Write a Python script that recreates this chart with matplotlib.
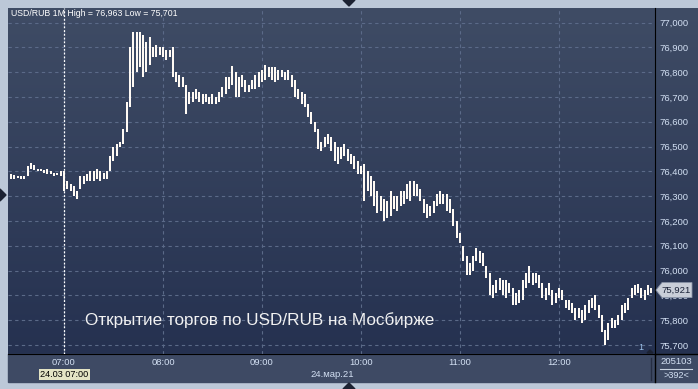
import numpy as np
import matplotlib
matplotlib.use("Agg")
import matplotlib.pyplot as plt
from matplotlib.patches import Polygon, Rectangle
from matplotlib.lines import Line2D

plt.rcParams["font.family"] = ["Liberation Sans", "DejaVu Sans"]

W, H = 698, 389

# 1M bars sampled every 2 minutes, minutes relative to 07:00
minutes = np.arange(-32, 357, 2)

lows = [
    76.37, 76.37, 76.375, 76.37, 76.37, 76.38, 76.41, 76.405, 76.40, 76.40,
    76.395, 76.39, 76.39, 76.38, 76.385, 76.38, 76.32, 76.33, 76.32, 76.30,
    76.29, 76.33, 76.35, 76.36, 76.36, 76.36, 76.37, 76.36, 76.37, 76.37,
    76.40, 76.44, 76.46, 76.50, 76.51, 76.56, 76.66, 76.74, 76.80, 76.82,
    76.78, 76.80, 76.83, 76.86, 76.86, 76.87, 76.86, 76.85, 76.86, 76.78,
    76.76, 76.74, 76.74, 76.63, 76.67, 76.68, 76.69, 76.68, 76.67, 76.68,
    76.67, 76.67, 76.67, 76.68, 76.70, 76.71, 76.73, 76.75, 76.70, 76.70,
    76.74, 76.72, 76.72, 76.73, 76.73, 76.74, 76.76, 76.77, 76.78, 76.77,
    76.76, 76.77, 76.78, 76.77, 76.77, 76.74, 76.70, 76.69, 76.67, 76.66,
    76.62, 76.59, 76.56, 76.49, 76.48, 76.50, 76.51, 76.48, 76.44, 76.43,
    76.45, 76.46, 76.44, 76.43, 76.41, 76.39, 76.39, 76.28, 76.32, 76.30,
    76.26, 76.23, 76.24, 76.20, 76.21, 76.22, 76.25, 76.24, 76.26, 76.27,
    76.29, 76.28, 76.30, 76.30, 76.28, 76.23, 76.21, 76.22, 76.23, 76.26,
    76.27, 76.27, 76.24, 76.23, 76.18, 76.13, 76.11, 76.04, 75.98, 75.98,
    76.00, 76.04, 76.03, 76.02, 75.97, 75.90, 75.89, 75.91, 75.92, 75.90,
    75.89, 75.91, 75.86, 75.86, 75.87, 75.88, 75.93, 75.95, 75.94, 75.95,
    75.93, 75.89, 75.88, 75.90, 75.86, 75.87, 75.89, 75.88, 75.85, 75.84,
    75.83, 75.80, 75.81, 75.79, 75.80, 75.83, 75.85, 75.84, 75.81, 75.75,
    75.701, 75.72, 75.77, 75.77, 75.78, 75.80, 75.83, 75.84, 75.89, 75.90,
    75.91, 75.89, 75.88, 75.90, 75.91,
]
highs = [
    76.39, 76.385, 76.38, 76.38, 76.38, 76.42, 76.435, 76.425, 76.41, 76.41,
    76.405, 76.41, 76.40, 76.395, 76.395, 76.40, 76.40, 76.36, 76.35, 76.34,
    76.32, 76.38, 76.38, 76.39, 76.40, 76.40, 76.41, 76.40, 76.395, 76.40,
    76.46, 76.50, 76.51, 76.52, 76.57, 76.68, 76.90, 76.96, 76.96, 76.963,
    76.95, 76.92, 76.94, 76.90, 76.91, 76.90, 76.90, 76.89, 76.89, 76.90,
    76.80, 76.79, 76.78, 76.75, 76.72, 76.72, 76.73, 76.72, 76.71, 76.71,
    76.70, 76.71, 76.70, 76.72, 76.74, 76.78, 76.78, 76.825, 76.80, 76.78,
    76.79, 76.77, 76.75, 76.77, 76.79, 76.80, 76.81, 76.83, 76.82, 76.82,
    76.82, 76.81, 76.81, 76.80, 76.81, 76.79, 76.77, 76.73, 76.72, 76.71,
    76.67, 76.64, 76.60, 76.57, 76.52, 76.54, 76.55, 76.54, 76.52, 76.50,
    76.50, 76.51, 76.49, 76.47, 76.46, 76.44, 76.42, 76.43, 76.40, 76.38,
    76.36, 76.32, 76.30, 76.29, 76.28, 76.32, 76.30, 76.30, 76.32, 76.32,
    76.35, 76.36, 76.36, 76.35, 76.33, 76.29, 76.27, 76.26, 76.28, 76.31,
    76.32, 76.31, 76.31, 76.29, 76.25, 76.20, 76.15, 76.10, 76.06, 76.03,
    76.06, 76.09, 76.08, 76.07, 76.02, 75.99, 75.94, 75.96, 75.97, 75.96,
    75.96, 75.95, 75.93, 75.91, 75.92, 75.96, 75.99, 76.02, 75.99, 75.99,
    75.98, 75.95, 75.93, 75.95, 75.92, 75.91, 75.93, 75.92, 75.88, 75.88,
    75.87, 75.85, 75.85, 75.84, 75.86, 75.88, 75.89, 75.90, 75.86, 75.82,
    75.76, 75.79, 75.81, 75.80, 75.82, 75.86, 75.87, 75.89, 75.93, 75.94,
    75.945, 75.93, 75.92, 75.94, 75.93,
]

price_levels = [75.7, 75.8, 75.9, 76.0, 76.1, 76.2, 76.3, 76.4, 76.5, 76.6, 76.7, 76.8, 76.9, 77.0]
hour_ticks = [0, 60, 120, 180, 240, 300]
hour_labels = ["07:00", "08:00", "09:00", "10:00", "11:00", "12:00"]
last_price = 75.921


def px(x, y):
    return (x / W, 1 - y / H)


fig = plt.figure(figsize=(W / 100, H / 100), dpi=100)
fig.patch.set_facecolor("#bcc8d8")

# gradient background for plot + right scale
bg = fig.add_axes([8 / W, 1 - 354 / H, (698 - 8) / W, (354 - 8) / H], zorder=-2)
top = np.array([63, 76, 101]) / 255
bot = np.array([37, 49, 80]) / 255
t = np.linspace(0, 1, 256)[:, None]
grad = (top * (1 - t) + bot * t)[:, None, :]
bg.imshow(grad, aspect="auto", extent=[0, 1, 0, 1])
bg.axis("off")

# bottom time panel
fig.patches.append(Rectangle(px(8, 382), (698 - 8) / W, (382 - 354) / H,
                             transform=fig.transFigure, color="#3e4a64", zorder=-1))

ax = fig.add_axes([8 / W, 1 - 354 / H, (655 - 8) / W, (354 - 8) / H], zorder=1)
ax.set_facecolor("none")
ax.set_xlim(-33.9, 358.2)
ax.set_ylim(75.6633, 77.0585)

ax.grid(True, color="#5b6a88", linestyle=(0, (3, 3)), linewidth=0.8)
ax.set_axisbelow(True)

ax.vlines(minutes, lows, highs, color="#fffaf4", linewidth=1.3, antialiased=False, zorder=3)
ax.axvline(0, color="white", linestyle=(0, (1.5, 1.5)), linewidth=0.9, zorder=4)

ax.yaxis.tick_right()
ax.set_yticks(price_levels)
ax.set_yticklabels([f"{v:.3f}".replace(".", ",") for v in price_levels])
ax.set_xticks(hour_ticks)
ax.set_xticklabels(hour_labels)
ax.tick_params(axis="y", length=0, pad=3, labelsize=6.8, labelcolor="#d3e0f3")
ax.tick_params(axis="x", length=0, pad=3, labelsize=6.8, labelcolor="#d3e0f3")
for s in ["top", "left"]:
    ax.spines[s].set_visible(False)
ax.spines["right"].set_color("black")
ax.spines["bottom"].set_color("black")

# separators
fig.add_artist(Line2D([655 / W, 655 / W], [1 - 354 / H, 1 - 382 / H], color="black", lw=1))
fig.add_artist(Line2D([655 / W, 698 / W], [1 - 354 / H, 1 - 354 / H], color="black", lw=1))
fig.add_artist(Line2D([651 / W, 651 / W], [1 - 358 / H, 1 - 380 / H], color="#252d42", lw=1))
fig.add_artist(Line2D([660 / W, 692 / W], [1 - 368.5 / H, 1 - 368.5 / H], color="#c8d2e0", lw=0.8))

# texts
fig.text(*px(11, 14), "USD/RUB 1M High = 76,963 Low = 75,701", color="white",
         fontsize=6.3, va="center", ha="left")
fig.text(*px(85, 320), "Открытие торгов по USD/RUB на Мосбирже", color="#f2f2f2",
         fontsize=12.3, va="center", ha="left")
fig.text(*px(64, 374.5), "24.03 07:00", color="black", fontsize=6.6, va="center", ha="center",
         bbox=dict(boxstyle="square,pad=0.15", facecolor="#e4e4c4", edgecolor="none"))
fig.text(*px(332, 374.5), "24.мар.21", color="#d3e0f3", fontsize=6.8, va="center", ha="center")
fig.text(*px(676, 362), "205103", color="#d3e0f3", fontsize=6.8, va="center", ha="center")
fig.text(*px(676, 375), ">392<", color="#d3e0f3", fontsize=6.6, va="center", ha="center")
fig.text(*px(641, 348), "1", color="#9cc2ea", fontsize=6.5, va="center", ha="center")

# last price tag (drawn over the 75,900 label as in the terminal)
ytag = 22.5 + (77.0 - last_price) * 248
tag = [px(656, ytag), px(662, ytag - 7.5), px(692, ytag - 7.5), px(692, ytag + 7.5), px(662, ytag + 7.5)]
fig.patches.append(Polygon(tag, closed=True, transform=fig.transFigure,
                           facecolor="#c9ced8", edgecolor="#8a94a8", lw=0.6, zorder=5))
fig.text(*px(676, ytag), f"{last_price:.3f}".replace(".", ","), color="#1a2238",
         fontsize=6.8, va="center", ha="center", zorder=6)

# small triangle markers on the frame
for pts in ([(343, 0), (355, 0), (349, 6)],
            [(343, 389), (355, 389), (349, 383)],
            [(0, 189), (0, 201), (6, 195)],
            [(647, 353), (653, 353), (650, 350)]):
    fig.patches.append(Polygon([px(*p) for p in pts], closed=True,
                               transform=fig.transFigure, color="#1c2232", zorder=5))

plt.savefig("out.png", dpi=100, facecolor=fig.get_facecolor())
